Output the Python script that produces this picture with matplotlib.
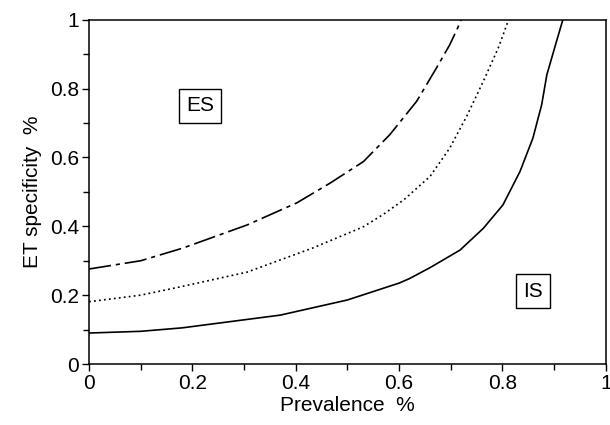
import matplotlib
matplotlib.use("Agg")
from matplotlib import pyplot as plt
from matplotlib.ticker import MultipleLocator

plt.rcParams["font.family"] = ["Liberation Sans", "DejaVu Sans"]
plt.rcParams["lines.scale_dashes"] = False

# curve data (prevalence, ET specificity)
x_solid = [0, 0.1, 0.18, 0.37, 0.5, 0.6, 0.62, 0.66, 0.718, 0.763, 0.801, 0.834, 0.859, 0.876, 0.886, 0.901, 0.917]
y_solid = [0.09, 0.095, 0.105, 0.142, 0.186, 0.235, 0.248, 0.28, 0.331, 0.394, 0.462, 0.559, 0.656, 0.753, 0.84, 0.918, 1.0]

x_dotted = [0, 0.1, 0.176, 0.306, 0.433, 0.53, 0.57, 0.61, 0.66, 0.698, 0.731, 0.763, 0.792, 0.812]
y_dotted = [0.181, 0.2, 0.224, 0.267, 0.337, 0.398, 0.435, 0.478, 0.545, 0.627, 0.72, 0.821, 0.918, 1.0]

x_dashdot = [0, 0.1, 0.182, 0.306, 0.402, 0.466, 0.531, 0.582, 0.634, 0.672, 0.698, 0.714, 0.72]
y_dashdot = [0.276, 0.3, 0.337, 0.404, 0.468, 0.525, 0.588, 0.666, 0.763, 0.859, 0.927, 0.978, 1.0]

region_labels = ["ES", "IS"]
region_pos = [(0.215, 0.75), (0.859, 0.212)]


def fmt(v, pos):
    v = round(v, 1)
    if v == 0:
        return "0"
    if v == 1:
        return "1"
    return f"{v:.1f}"


fig = plt.figure(figsize=(6.1, 4.25), dpi=100)
ax = fig.add_axes([0.146, 0.1435, 0.847, 0.81])

ax.plot(x_solid, y_solid, color="black", lw=1.2)
ax.plot(x_dotted, y_dotted, color="black", lw=1.2, linestyle=(0, (1.3, 2.3)))
ax.plot(x_dashdot, y_dashdot, color="black", lw=1.2, linestyle=(0, (16, 3.5, 3, 3.5)))

for lab, (px, py) in zip(region_labels, region_pos):
    ax.text(px, py, lab, fontsize=15, ha="center", va="center",
            bbox=dict(boxstyle="square,pad=0.35", fc="white", ec="black", lw=1.0))

ax.set_xlim(0, 1)
ax.set_ylim(0, 1)
ax.xaxis.set_major_locator(MultipleLocator(0.2))
ax.xaxis.set_minor_locator(MultipleLocator(0.1))
ax.yaxis.set_major_locator(MultipleLocator(0.2))
ax.yaxis.set_minor_locator(MultipleLocator(0.1))
ax.xaxis.set_major_formatter(fmt)
ax.yaxis.set_major_formatter(fmt)
ax.tick_params(which="major", direction="out", length=5, width=1, labelsize=15, pad=2)
ax.tick_params(which="minor", direction="out", length=4, width=1)
ax.tick_params(top=False, right=False)
for s in ax.spines.values():
    s.set_linewidth(1.1)

ax.set_xlabel("Prevalence  %", fontsize=15, labelpad=2)
ax.set_ylabel("ET specificity  %", fontsize=15, labelpad=6)

fig.savefig("out.png", dpi=100)
